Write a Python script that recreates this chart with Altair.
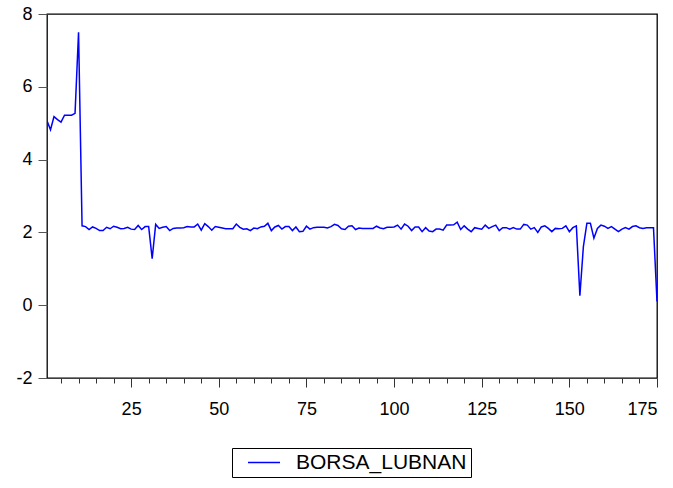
import altair as alt
import pandas as pd

obs = list(range(1, 176))
borsa_lubnan = [
    5.07, 4.82, 5.18, 5.10, 5.03, 5.22, 5.22, 5.22, 5.27, 7.50,
    2.18, 2.16, 2.08, 2.15, 2.11, 2.05, 2.05, 2.14, 2.10, 2.17,
    2.14, 2.10, 2.11, 2.14, 2.09, 2.08, 2.19, 2.08, 2.16, 2.16,
    1.28, 2.22, 2.11, 2.14, 2.16, 2.05, 2.11, 2.12, 2.12, 2.13,
    2.16, 2.15, 2.15, 2.23, 2.06, 2.24, 2.16, 2.06, 2.16, 2.14,
    2.12, 2.10, 2.10, 2.10, 2.23, 2.14, 2.09, 2.10, 2.05, 2.12,
    2.10, 2.15, 2.17, 2.25, 2.05, 2.15, 2.19, 2.09, 2.16, 2.16,
    2.05, 2.15, 2.02, 2.03, 2.17, 2.09, 2.13, 2.14, 2.14, 2.14,
    2.12, 2.16, 2.22, 2.19, 2.10, 2.08, 2.17, 2.18, 2.08, 2.12,
    2.11, 2.11, 2.11, 2.11, 2.17, 2.12, 2.10, 2.14, 2.14, 2.15,
    2.20, 2.09, 2.23, 2.17, 2.05, 2.15, 2.15, 2.02, 2.13, 2.04,
    2.02, 2.09, 2.09, 2.06, 2.20, 2.20, 2.21, 2.28, 2.08, 2.18,
    2.09, 2.02, 2.13, 2.11, 2.09, 2.20, 2.11, 2.16, 2.20, 2.05,
    2.13, 2.13, 2.09, 2.13, 2.09, 2.09, 2.22, 2.20, 2.09, 2.13,
    2.00, 2.15, 2.18, 2.11, 2.02, 2.11, 2.10, 2.11, 2.18, 2.02,
    2.13, 2.18, 0.26, 1.61, 2.25, 2.25, 1.84, 2.11, 2.20, 2.17,
    2.11, 2.16, 2.09, 2.02, 2.09, 2.13, 2.09, 2.16, 2.18, 2.13,
    2.11, 2.13, 2.13, 2.13, 0.10,
]
series_label = "BORSA_LUBNAN"
x_tick_values = list(range(5, 176, 5))
y_tick_values = [-2, 0, 2, 4, 6, 8]

df = pd.DataFrame({"obs": obs, "value": borsa_lubnan, "series": series_label})

FONT = "Liberation Sans"

chart = alt.Chart(df).mark_line(strokeWidth=1.5, clip=True).encode(
    x=alt.X(
        "obs:Q",
        scale=alt.Scale(domain=[1, 175], nice=False, zero=False),
        axis=alt.Axis(
            values=x_tick_values,
            labelExpr="datum.value % 25 === 0 ? datum.label : ''",
            tickSize={"condition": {"test": "datum.value % 25 === 0", "value": 9}, "value": 5},
            title=None, grid=False, domain=False,
            labelPadding=13, tickColor="#333333",
        ),
    ),
    y=alt.Y(
        "value:Q",
        scale=alt.Scale(domain=[-2, 8], nice=False, zero=False),
        axis=alt.Axis(
            values=y_tick_values, tickSize=9, title=None, grid=False,
            domain=False, labelPadding=6, tickColor="#555555",
            labelExpr="datum.value < 0 ? '-' + abs(datum.value) : '' + datum.value",
        ),
    ),
    color=alt.Color(
        "series:N",
        scale=alt.Scale(range=["#0000FF"]),
        legend=alt.Legend(
            title=None, orient="none", legendX=185, legendY=434,
            symbolType="M0.3,0H6.7", symbolSize=100, symbolStrokeWidth=1.5,
            labelFontSize=21, labelFont=FONT, labelColor="black",
            labelLimit=400, strokeColor="black", fillColor="white",
            padding=4, labelOffset=39,
        ),
    ),
).properties(
    width=610, height=364,
    autosize=alt.AutoSizeParams(type="none"),
    padding={"left": 47, "top": 14, "right": 16, "bottom": 110},
).configure_view(
    stroke="black", strokeWidth=1.3
).configure_axis(
    labelFont=FONT, labelFontSize=18, labelColor="black",
)

chart.save("out.html", embed_options={"renderer": "svg", "actions": False})
